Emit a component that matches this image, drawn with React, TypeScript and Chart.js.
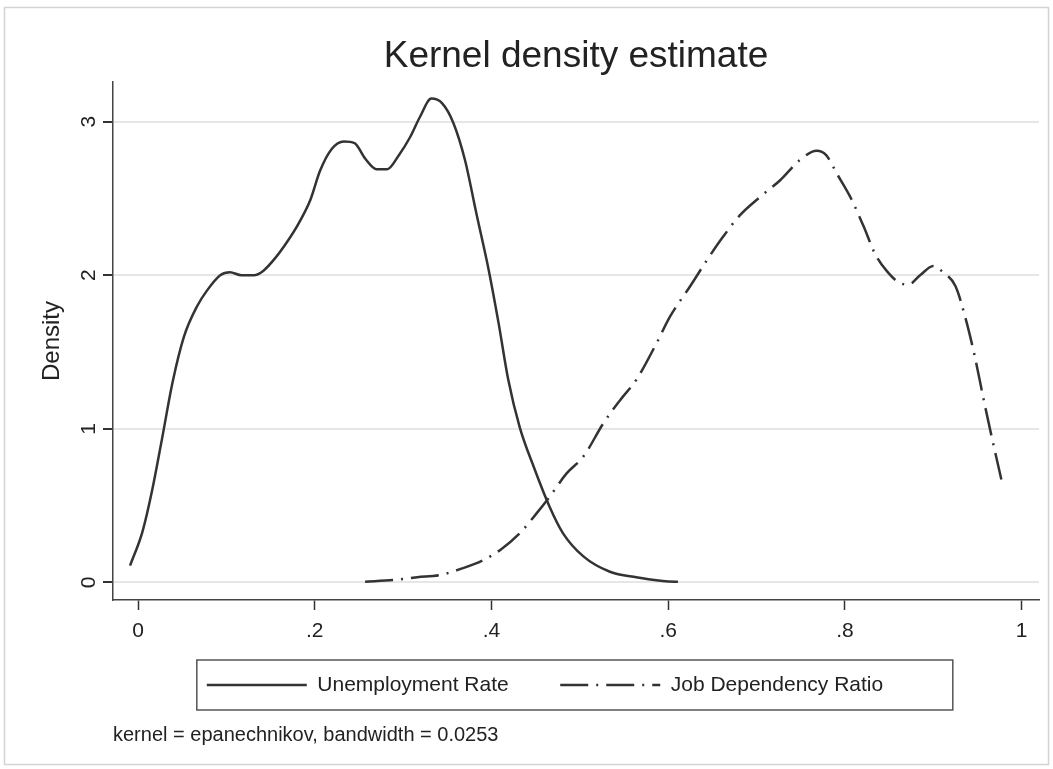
import React, { useEffect, useRef } from 'react';
import { Chart, registerables } from 'chart.js';

Chart.register(...registerables);

const FONT = '"Liberation Sans", Arial, sans-serif';

const titleText = 'Kernel density estimate';
const noteText = 'kernel = epanechnikov, bandwidth = 0.0253';
const yAxisTitle = 'Density';
const seriesLabels = ['Unemployment Rate', 'Job Dependency Ratio'];

const xTickValues = [0, 0.2, 0.4, 0.6, 0.8, 1];
const xTickLabels = ['0', '.2', '.4', '.6', '.8', '1'];
const yTickValues = [0, 1, 2, 3];
const yTickLabels = ['0', '1', '2', '3'];

const unempX = [-0.009, 0.005, 0.016, 0.027, 0.039, 0.052, 0.067, 0.078, 0.093, 0.104, 0.117, 0.131, 0.142, 0.155, 0.169, 0.182, 0.195, 0.206, 0.219, 0.233, 0.245, 0.257, 0.27, 0.282, 0.295, 0.308, 0.319, 0.332, 0.344, 0.357, 0.37, 0.383, 0.397, 0.408, 0.419, 0.432, 0.448, 0.466, 0.481, 0.504, 0.534, 0.564, 0.6, 0.611];
const unempY = [0.11, 0.33, 0.6, 0.93, 1.3, 1.6, 1.8, 1.9, 2.0, 2.02, 2.0, 2.0, 2.03, 2.11, 2.22, 2.34, 2.49, 2.68, 2.82, 2.87, 2.86, 2.76, 2.69, 2.69, 2.78, 2.9, 3.03, 3.15, 3.12, 2.99, 2.75, 2.4, 2.03, 1.69, 1.32, 1.01, 0.75, 0.49, 0.32, 0.17, 0.07, 0.034, 0.006, 0.005];

const jobX = [0.257, 0.289, 0.316, 0.342, 0.365, 0.391, 0.41, 0.432, 0.451, 0.466, 0.485, 0.504, 0.527, 0.546, 0.564, 0.587, 0.602, 0.625, 0.644, 0.662, 0.681, 0.704, 0.727, 0.749, 0.768, 0.779, 0.791, 0.806, 0.821, 0.834, 0.847, 0.862, 0.872, 0.885, 0.9, 0.911, 0.925, 0.936, 0.947, 0.957, 0.966, 0.977];
const jobY = [0.005, 0.016, 0.034, 0.049, 0.088, 0.146, 0.212, 0.32, 0.45, 0.56, 0.71, 0.82, 1.04, 1.19, 1.32, 1.56, 1.73, 1.93, 2.1, 2.25, 2.39, 2.51, 2.62, 2.75, 2.81, 2.78, 2.66, 2.51, 2.32, 2.14, 2.03, 1.95, 1.94, 2.0, 2.06, 2.02, 1.93, 1.73, 1.47, 1.19, 0.95, 0.67];

const toPoints = (xs: number[], ys: number[]) => xs.map((x, i) => ({ x, y: ys[i] }));

const framePlugin = {
  id: 'frame',
  beforeDraw(chart: any) {
    const { ctx, width, height } = chart;
    ctx.save();
    ctx.fillStyle = '#ffffff';
    ctx.fillRect(0, 0, width, height);
    ctx.strokeStyle = '#d4d4d4';
    ctx.lineWidth = 1.5;
    ctx.strokeRect(4.5, 7.5, width - 9, height - 12);
    ctx.restore();
  },
};

const tickLabelPlugin = {
  id: 'tickLabels',
  afterDraw(chart: any) {
    const { ctx } = chart;
    const ys = chart.scales.y;
    const xs = chart.scales.x;
    ctx.save();
    ctx.fillStyle = '#222';
    ctx.font = `21px ${FONT}`;
    ctx.textAlign = 'center';
    ctx.textBaseline = 'middle';
    yTickValues.forEach((v, i) => {
      const py = ys.getPixelForValue(v);
      ctx.save();
      ctx.translate(89, py);
      ctx.rotate(-Math.PI / 2);
      ctx.fillText(yTickLabels[i], 0, 0);
      ctx.restore();
    });
    xTickValues.forEach((v, i) => {
      const px = xs.getPixelForValue(v);
      ctx.fillText(xTickLabels[i], px, xs.top + 31);
    });
    ctx.restore();
  },
};

const legendBoxPlugin = {
  id: 'legendBox',
  afterDraw(chart: any) {
    const lg = chart.legend;
    if (!lg || !lg.legendHitBoxes || !lg.legendHitBoxes.length) return;
    const hb = lg.legendHitBoxes[0];
    const cy = hb.top + hb.height / 2;
    const left = hb.left - 10;
    const { ctx } = chart;
    ctx.save();
    ctx.strokeStyle = '#555';
    ctx.lineWidth = 1.5;
    ctx.strokeRect(left, cy - 25, 756, 50);
    ctx.restore();
  },
};

export default function App() {
  const ref = useRef<HTMLCanvasElement>(null);

  useEffect(() => {
    if (!ref.current) return;
    const chart = new Chart(ref.current, {
      type: 'line',
      data: {
        datasets: [
          {
            label: seriesLabels[0],
            data: toPoints(unempX, unempY),
            borderColor: '#333',
            backgroundColor: '#333',
            borderWidth: 2.5,
            pointRadius: 0,
            cubicInterpolationMode: 'monotone',
            fill: false,
          },
          {
            label: seriesLabels[1],
            data: toPoints(jobX, jobY),
            borderColor: '#333',
            backgroundColor: '#333',
            borderWidth: 2.5,
            borderDash: [28, 8, 2, 8],
            pointRadius: 0,
            cubicInterpolationMode: 'monotone',
            fill: false,
          },
        ],
      },
      options: {
        animation: false,
        responsive: true,
        maintainAspectRatio: false,
        layout: { padding: { left: 51, right: 14, top: 0, bottom: 0 } },
        scales: {
          x: {
            type: 'linear',
            min: -0.0283,
            max: 1.0196,
            afterBuildTicks: (s: any) => {
              s.ticks = xTickValues.map((value) => ({ value }));
            },
            afterFit: (s: any) => {
              s.height = 23;
            },
            grid: {
              drawOnChartArea: false,
              drawTicks: true,
              tickLength: 10,
              tickColor: '#333',
              tickWidth: 1.5,
            },
            border: { display: true, color: '#444', width: 1.5 },
            ticks: { display: false },
          },
          y: {
            type: 'linear',
            min: -0.114,
            max: 3.258,
            afterBuildTicks: (s: any) => {
              s.ticks = yTickValues.map((value) => ({ value }));
            },
            afterFit: (s: any) => {
              s.width = 62;
            },
            grid: {
              color: '#e6e6e6',
              lineWidth: 2,
              drawTicks: true,
              tickLength: 10,
              tickColor: '#333',
              tickWidth: 2,
            },
            border: { display: true, color: '#444', width: 1.5 },
            ticks: { display: false },
            title: {
              display: true,
              text: yAxisTitle,
              color: '#222',
              font: { family: FONT, size: 24 },
              padding: { top: -13.4, bottom: 0 },
            },
          },
        },
        plugins: {
          title: {
            display: true,
            text: titleText,
            fullSize: false,
            color: '#222',
            font: { family: FONT, size: 37, weight: 'normal' },
            padding: { top: 34.8, bottom: 2.8 },
          },
          subtitle: {
            display: true,
            text: noteText,
            position: 'bottom',
            align: 'start',
            fullSize: false,
            color: '#222',
            font: { family: FONT, size: 20 },
            padding: { top: 17.5, bottom: 22 },
          },
          legend: {
            display: true,
            position: 'bottom',
            labels: {
              usePointStyle: true,
              pointStyle: 'line',
              pointStyleWidth: 100,
              padding: 51.5,
              color: '#222',
              font: { family: FONT, size: 21 },
              generateLabels: (ch: any) => {
                const items = Chart.defaults.plugins.legend.labels.generateLabels(ch);
                items.forEach((it: any, i: number) => {
                  const ds: any = ch.data.datasets[i];
                  it.lineDash = ds.borderDash || [];
                  it.lineWidth = ds.borderWidth;
                  it.strokeStyle = ds.borderColor;
                  it.fillStyle = ds.borderColor;
                  it.pointStyle = 'line';
                });
                return items;
              },
            },
          },
          tooltip: { enabled: false },
        },
      },
      plugins: [framePlugin, tickLabelPlugin, legendBoxPlugin],
    } as any);
    return () => chart.destroy();
  }, []);

  return (
    <div style={{ position: 'absolute', left: 0, top: 0, width: 1053, height: 769, background: '#fff' }}>
      <canvas ref={ref} />
    </div>
  );
}
